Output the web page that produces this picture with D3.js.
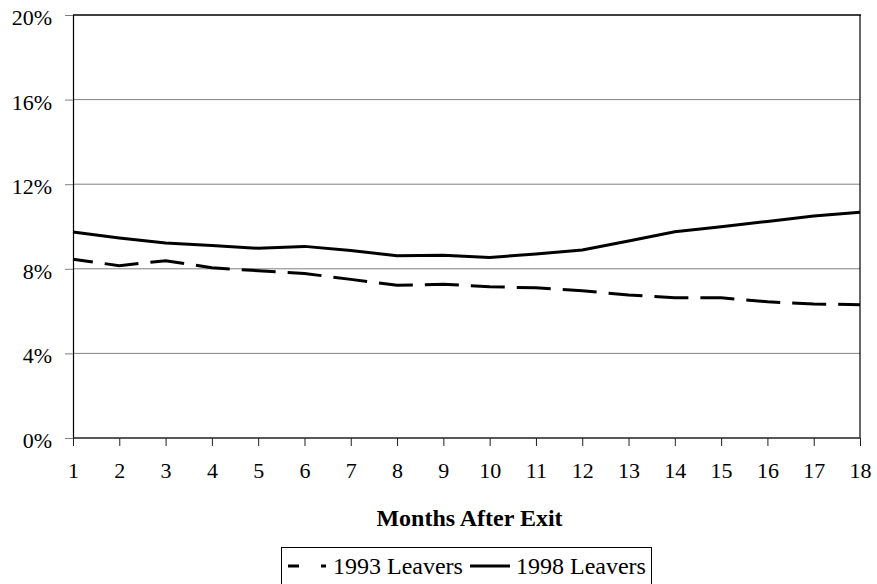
<!DOCTYPE html>
<html>
<head>
<meta charset="utf-8">
<script src="https://cdn.jsdelivr.net/npm/d3@7"></script>
<style>
  body { margin: 0; background: #fff; }
  svg text { font-family: "Liberation Serif", "Times New Roman", Times, "DejaVu Serif", serif; fill: #000; }
</style>
</head>
<body>
<svg id="chart" width="877" height="584"></svg>
<script>
// data
var months = [1, 2, 3, 4, 5, 6, 7, 8, 9, 10, 11, 12, 13, 14, 15, 16, 17, 18];
var leavers1993 = [8.45, 8.15, 8.38, 8.05, 7.91, 7.78, 7.5, 7.22, 7.27, 7.15, 7.1, 6.96, 6.76, 6.63, 6.63, 6.44, 6.34, 6.3];
var leavers1998 = [9.74, 9.46, 9.22, 9.1, 8.97, 9.06, 8.86, 8.62, 8.64, 8.54, 8.7, 8.89, 9.31, 9.75, 9.99, 10.24, 10.5, 10.67];
var yTicks = [0, 4, 8, 12, 16, 20];
var seriesNames = ["1993 Leavers", "1998 Leavers"];

var serif = "'Liberation Serif', 'Times New Roman', Times, 'DejaVu Serif', serif";

var svg = d3.select("#chart");
var margin = {top: 15, right: 17, bottom: 146, left: 73};
var width = +svg.attr("width"), height = +svg.attr("height");

var x = d3.scaleLinear().domain([1, 18]).range([margin.left, width - margin.right]);
var y = d3.scaleLinear().domain([0, 20]).range([height - margin.bottom, margin.top]);

// gridlines
svg.append("g")
    .selectAll("line")
    .data(yTicks.filter(function (d) { return d > 0 && d < 20; }))
    .enter().append("line")
    .attr("x1", x(1)).attr("x2", x(18))
    .attr("y1", function (d) { return y(d); })
    .attr("y2", function (d) { return y(d); })
    .attr("stroke", "#808080").attr("stroke-width", 1);

// plot border top/right
svg.append("line")
    .attr("x1", x(1)).attr("x2", x(18) + 1)
    .attr("y1", y(20)).attr("y2", y(20))
    .attr("stroke", "#404040").attr("stroke-width", 2);
svg.append("line")
    .attr("x1", x(18)).attr("x2", x(18))
    .attr("y1", y(20)).attr("y2", y(0))
    .attr("stroke", "#000").attr("stroke-width", 1.2);

// y axis
var yAxis = svg.append("g")
    .attr("transform", "translate(" + x(1) + ",0)")
    .call(d3.axisLeft(y).tickValues(yTicks).tickSize(8).tickPadding(13)
        .tickFormat(function (d) { return d + "%"; }));
yAxis.attr("font-family", serif).attr("font-size", 22);
yAxis.select(".domain").attr("stroke", "#000").attr("stroke-width", 1.2);
yAxis.selectAll(".tick line").attr("stroke", "#808080");
yAxis.selectAll("text")
    .style("font-family", serif)
    .style("font-size", "22px")
    .attr("dy", "0.43em");

// x axis
var xAxis = svg.append("g")
    .attr("transform", "translate(0," + y(0) + ")")
    .call(d3.axisBottom(x).tickValues(months).tickSize(8).tickPadding(16)
        .tickFormat(d3.format("d")));
xAxis.attr("font-family", serif).attr("font-size", 22);
xAxis.select(".domain").attr("stroke", "#202020").attr("stroke-width", 1.5)
    .attr("d", "M" + x(1) + ",0H" + x(18));
xAxis.selectAll(".tick line").attr("stroke", "#202020");
xAxis.selectAll("text")
    .style("font-family", serif)
    .style("font-size", "22px");

// axis title
svg.append("text")
    .attr("x", (x(1) + x(18)) / 2 + 3)
    .attr("y", 526)
    .attr("text-anchor", "middle")
    .style("font-family", serif)
    .style("font-size", "24px")
    .style("font-weight", "bold")
    .text("Months After Exit");

// lines
var line = d3.line()
    .x(function (d, i) { return x(months[i]); })
    .y(function (d) { return y(d); });

svg.append("path")
    .datum(leavers1993)
    .attr("d", line)
    .attr("fill", "none")
    .attr("stroke", "#000")
    .attr("stroke-width", 3)
    .attr("stroke-dasharray", "34,12")
    .attr("stroke-dashoffset", 14);

svg.append("path")
    .datum(leavers1998)
    .attr("d", line)
    .attr("fill", "none")
    .attr("stroke", "#000")
    .attr("stroke-width", 3);

// legend
var legend = svg.append("g");
legend.append("rect")
    .attr("x", 281.5).attr("y", 547.5)
    .attr("width", 370).attr("height", 50)
    .attr("fill", "#fff").attr("stroke", "#000").attr("stroke-width", 1);

legend.append("line")
    .attr("x1", 288).attr("x2", 326).attr("y1", 566).attr("y2", 566)
    .attr("stroke", "#000").attr("stroke-width", 3)
    .attr("stroke-dasharray", "11,22");
legend.append("text")
    .attr("x", 333).attr("y", 574)
    .style("font-family", serif)
    .style("font-size", "24px")
    .text(seriesNames[0]);

legend.append("line")
    .attr("x1", 470).attr("x2", 510).attr("y1", 566).attr("y2", 566)
    .attr("stroke", "#000").attr("stroke-width", 3);
legend.append("text")
    .attr("x", 516).attr("y", 574)
    .style("font-family", serif)
    .style("font-size", "24px")
    .text(seriesNames[1]);
</script>
</body>
</html>
